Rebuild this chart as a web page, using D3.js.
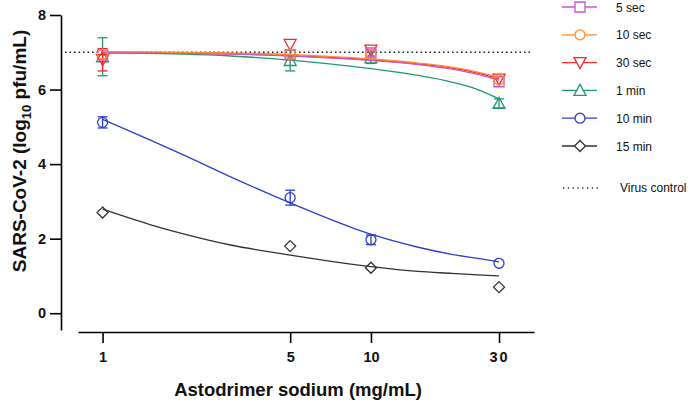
<!DOCTYPE html>
<html>
<head>
<meta charset="utf-8">
<script src="https://cdn.jsdelivr.net/npm/d3@7"></script>
<style>
  body { margin: 0; background: #fff; }
  svg { font-family: Arial, 'Liberation Sans', sans-serif; }
</style>
</head>
<body>
<div id="chart"></div>
<script>
// concentrations (mg/mL)
const doses = [1, 5, 10, 30];
const xTickLabels = ['1', '5', '10', '30'];
const yTicks = [0, 2, 4, 6, 8];
const virusControl = 7;

const seriesNames = ['5 sec', '10 sec', '30 sec', '1 min', '10 min', '15 min'];
const seriesColors = ['#c856c8', '#ff8a2e', '#f22a2a', '#1f9a6c', '#2b3fcc', '#333333'];
const seriesSymbols = ['square', 'circle', 'down', 'up', 'circle', 'diamond'];

// measured means (log10 pfu/mL) and error (+/-)
const means5s = [6.93, 6.93, 6.98, 6.21];
const errs5s = [0.05, 0.05, 0.08, 0.05];
const means10s = [6.95, 6.95, 6.95, 6.26];
const errs10s = [0.05, 0.05, 0.05, 0.05];
const means30s = [6.8, 7.21, 7.06, 6.28];
const errs30s = [0.3, 0.05, 0.05, 0.05];
const means1m = [6.88, 6.78, 6.85, 5.63];
const errs1m = [0.51, 0.28, 0.15, 0.12];
const means10m = [5.12, 3.1, 1.97, 1.34];
const errs10m = [0.15, 0.2, 0.13, 0.05];
const means15m = [2.7, 1.8, 1.22, 0.7];
const errs15m = [0, 0, 0, 0];

// fitted curves
const curveX = [1, 1.5, 2, 3, 5, 7, 10, 15, 20, 25, 30];
const fit5s = [7.0, 6.99, 6.97, 6.95, 6.9, 6.85, 6.78, 6.67, 6.55, 6.41, 6.25];
const fit10s = [7.02, 7.01, 7.0, 6.98, 6.94, 6.89, 6.82, 6.71, 6.6, 6.47, 6.33];
const fit30s = [7.0, 6.99, 6.98, 6.96, 6.91, 6.86, 6.8, 6.69, 6.58, 6.44, 6.29];
const fit1m = [6.98, 6.97, 6.95, 6.9, 6.79, 6.69, 6.56, 6.38, 6.2, 6.0, 5.75];
const fit10m = [5.2, 4.65, 4.25, 3.66, 2.96, 2.53, 2.12, 1.77, 1.58, 1.47, 1.38];
const fit15m = [2.79, 2.38, 2.13, 1.83, 1.56, 1.4, 1.25, 1.12, 1.07, 1.03, 1.0];

const allMeans = [means5s, means10s, means30s, means1m, means10m, means15m];
const allErrs = [errs5s, errs10s, errs30s, errs1m, errs10m, errs15m];
const allFits = [fit5s, fit10s, fit30s, fit1m, fit10m, fit15m];

const width = 688;
const height = 402;

const svg = d3.select('#chart')
  .append('svg')
  .attr('width', width)
  .attr('height', height);

const x = d3.scaleLog().domain([0.81, 40.5]).range([78, 534]);
const y = d3.scaleLinear().domain([-0.45, 8]).range([330, 15]);

// y axis
const yAxis = svg.append('g')
  .attr('transform', 'translate(61,0)')
  .call(d3.axisLeft(y).tickValues(yTicks).tickSize(11).tickPadding(4).tickSizeOuter(0));
yAxis.select('.domain').attr('stroke-width', 1.6);
yAxis.selectAll('.tick line').attr('stroke-width', 1.6);
yAxis.selectAll('text').attr('font-size', 14.5).attr('font-weight', 'bold').attr('fill', '#111');

// x axis
const xAxis = svg.append('g')
  .attr('transform', 'translate(0,332)')
  .call(d3.axisBottom(x).tickValues(doses).tickFormat((d, i) => xTickLabels[i])
    .tickSize(11).tickPadding(9).tickSizeOuter(0));
xAxis.select('.domain').attr('stroke-width', 1.6);
xAxis.selectAll('.tick line').attr('stroke-width', 1.6);
xAxis.selectAll('text').attr('font-size', 14.5).attr('font-weight', 'bold').attr('fill', '#111')
  .attr('letter-spacing', (d) => (d === 30 ? '2px' : null));

// titles
svg.append('text')
  .attr('x', 298)
  .attr('y', 396)
  .attr('text-anchor', 'middle')
  .attr('font-size', 18.5)
  .attr('font-weight', 'bold')
  .attr('fill', '#111')
  .text('Astodrimer sodium (mg/mL)');

const yTitle = svg.append('text')
  .attr('transform', 'translate(26,151) rotate(-90)')
  .attr('text-anchor', 'middle')
  .attr('font-size', 19)
  .attr('font-weight', 'bold')
  .attr('fill', '#111');
yTitle.append('tspan').text('SARS-CoV-2 (log');
yTitle.append('tspan').attr('font-size', 13).attr('dy', 5).text('10');
yTitle.append('tspan').attr('dy', -5).text(' pfu/mL)');

// virus control line
svg.append('line')
  .attr('x1', 65)
  .attr('x2', 530)
  .attr('y1', y(virusControl))
  .attr('y2', y(virusControl))
  .attr('stroke', '#222')
  .attr('stroke-width', 1.6)
  .attr('stroke-dasharray', '1.6,2.9');

const symbolPath = (type) => {
  if (type === 'square') return 'M-5,-5H5V5H-5Z';
  if (type === 'circle') return d3.symbol(d3.symbolCircle, 78)();
  if (type === 'down') return 'M-6,-5H6L0,6Z';
  if (type === 'up') return 'M-6,5H6L0,-6Z';
  return 'M0,-5.5L5.5,0L0,5.5L-5.5,0Z';
};

const line = d3.line()
  .x((d) => x(d[0]))
  .y((d) => y(d[1]))
  .curve(d3.curveMonotoneX);

// draw series back to front
const order = [5, 4, 3, 2, 0, 1];
order.forEach((s) => {
  const color = seriesColors[s];
  const g = svg.append('g');

  g.append('path')
    .datum(curveX.map((cx, i) => [cx, allFits[s][i]]))
    .attr('d', line)
    .attr('fill', 'none')
    .attr('stroke', color)
    .attr('stroke-width', 1.3);

  const pts = doses.map((d, i) => ({ d, m: allMeans[s][i], e: allErrs[s][i] }));

  const eb = g.selectAll('.err')
    .data(pts.filter((p) => p.e > 0.06))
    .enter()
    .append('g')
    .attr('stroke', color)
    .attr('stroke-width', 1.3);
  eb.append('line')
    .attr('x1', (p) => x(p.d)).attr('x2', (p) => x(p.d))
    .attr('y1', (p) => y(p.m + p.e)).attr('y2', (p) => y(p.m - p.e));
  eb.append('line')
    .attr('x1', (p) => x(p.d) - 5).attr('x2', (p) => x(p.d) + 5)
    .attr('y1', (p) => y(p.m + p.e)).attr('y2', (p) => y(p.m + p.e));
  eb.append('line')
    .attr('x1', (p) => x(p.d) - 5).attr('x2', (p) => x(p.d) + 5)
    .attr('y1', (p) => y(p.m - p.e)).attr('y2', (p) => y(p.m - p.e));

  g.selectAll('.pt')
    .data(pts)
    .enter()
    .append('path')
    .attr('transform', (p) => `translate(${x(p.d)},${y(p.m)})`)
    .attr('d', symbolPath(seriesSymbols[s]))
    .attr('fill', 'none')
    .attr('stroke', color)
    .attr('stroke-width', 1.3);
});

// legend
const legend = svg.append('g');
seriesNames.forEach((name, i) => {
  const ly = 7 + i * 27.8;
  const row = legend.append('g').attr('transform', `translate(0,${ly})`);
  row.append('line')
    .attr('x1', 562).attr('x2', 597)
    .attr('stroke', seriesColors[i]).attr('stroke-width', 1.3);
  row.append('path')
    .attr('transform', 'translate(580,0)')
    .attr('d', symbolPath(seriesSymbols[i]))
    .attr('fill', '#fff')
    .attr('stroke', seriesColors[i])
    .attr('stroke-width', 1.3);
  row.append('text')
    .attr('x', 616).attr('y', 4.5)
    .attr('font-size', 12)
    .attr('fill', '#111')
    .text(name);
});
legend.append('line')
  .attr('x1', 563).attr('x2', 598)
  .attr('y1', 188).attr('y2', 188)
  .attr('stroke', '#222')
  .attr('stroke-width', 1.3)
  .attr('stroke-dasharray', '1.3,3.5');
legend.append('text')
  .attr('x', 620).attr('y', 192)
  .attr('font-size', 12)
  .attr('fill', '#111')
  .text('Virus control');
</script>
</body>
</html>
